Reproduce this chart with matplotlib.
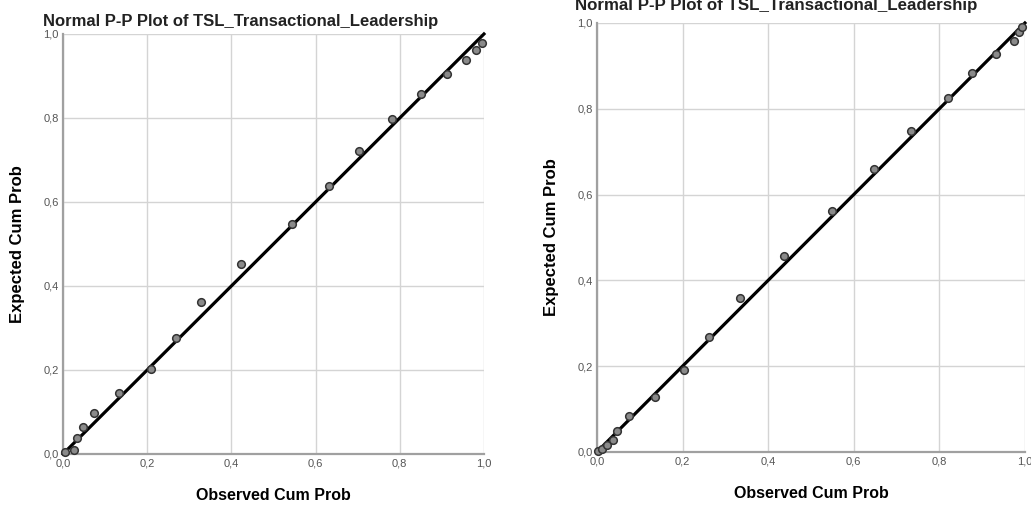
import numpy as np
import matplotlib
matplotlib.use('Agg')
import matplotlib.pyplot as plt
from matplotlib.ticker import FuncFormatter

plt.rcParams['font.family'] = ['Liberation Sans', 'DejaVu Sans']

title = 'Normal P-P Plot of TSL_Transactional_Leadership'
ticks = [0.0, 0.2, 0.4, 0.6, 0.8, 1.0]

# left panel
obs_left = [0.004, 0.025, 0.034, 0.048, 0.073, 0.132, 0.208, 0.268, 0.328, 0.423,
            0.544, 0.632, 0.703, 0.781, 0.850, 0.912, 0.957, 0.981, 0.995]
exp_left = [0.004, 0.009, 0.038, 0.064, 0.098, 0.145, 0.202, 0.276, 0.362, 0.452,
            0.548, 0.638, 0.722, 0.798, 0.857, 0.905, 0.938, 0.962, 0.979]

# right panel
obs_right = [0.003, 0.012, 0.023, 0.037, 0.047, 0.075, 0.135, 0.203, 0.262, 0.334,
             0.437, 0.549, 0.647, 0.733, 0.820, 0.876, 0.932, 0.974, 0.986, 0.993]
exp_right = [0.002, 0.007, 0.016, 0.028, 0.049, 0.084, 0.128, 0.191, 0.268, 0.359,
             0.457, 0.562, 0.660, 0.748, 0.825, 0.884, 0.928, 0.958, 0.979, 0.991]


def pp_panel(ax, obs, exp):
    ax.set_xlim(0, 1)
    ax.set_ylim(0, 1)
    ax.set_xticks(ticks)
    ax.set_yticks(ticks)
    fmt = FuncFormatter(lambda v, p: ('%.1f' % v).replace('.', ','))
    ax.xaxis.set_major_formatter(fmt)
    ax.yaxis.set_major_formatter(fmt)
    ax.grid(True, color='#d4d4d4', linewidth=1.0)
    ax.set_axisbelow(True)
    for s in ['top', 'right']:
        ax.spines[s].set_visible(False)
    for s in ['left', 'bottom']:
        ax.spines[s].set_color('#a0a0a0')
        ax.spines[s].set_linewidth(1.6)
    ax.tick_params(length=0, labelsize=8, labelcolor='#555555', pad=3)
    ax.plot([0, 1], [0, 1], color='black', linewidth=2.3, clip_on=False, zorder=3)
    ax.plot(obs, exp, 'o', markersize=5.5, markerfacecolor='#8a8a8a',
            markeredgecolor='#333333', markeredgewidth=1.1, zorder=4, clip_on=False)
    ax.set_xlabel('Observed Cum Prob', fontsize=11.5, fontweight='bold', labelpad=14)
    ax.set_ylabel('Expected Cum Prob', fontsize=12, fontweight='bold', labelpad=13)


fig = plt.figure(figsize=(10.31, 5.05), dpi=100)
ax1 = fig.add_axes([0.0611, 0.1010, 0.4083, 0.8317])
ax2 = fig.add_axes([0.5790, 0.1050, 0.4151, 0.8495])

pp_panel(ax1, obs_left, exp_left)
pp_panel(ax2, obs_right, exp_right)

fig.text(43 / 1031, 1 - 26 / 505, title, fontsize=12, fontweight='bold',
         color='#222222', ha='left', va='baseline')
# right title is cut at the top edge in the original
fig.text(575 / 1031, 1 - 10 / 505, title, fontsize=12.2, fontweight='bold',
         color='#222222', ha='left', va='baseline')

fig.savefig('out.png', dpi=100)
